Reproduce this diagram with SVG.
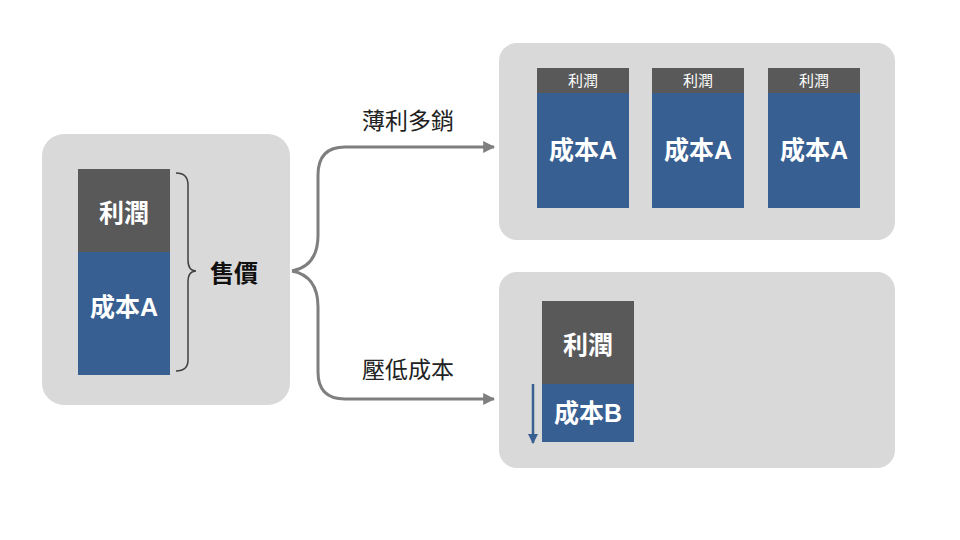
<svg xmlns="http://www.w3.org/2000/svg" width="960" height="540" viewBox="0 0 960 540">
<defs>
<style>
.panel{fill:#d9d9d9}
.dk{fill:#595959}
.bl{fill:#385f92}
.t{font-family:"Liberation Sans","Noto Sans CJK TC",sans-serif;fill:#fff;text-anchor:middle}
.lb{font-family:"Liberation Sans","Noto Sans CJK TC",sans-serif;fill:#222;font-size:23px}
.conn{fill:none;stroke:#7f7f7f;stroke-width:3}
</style>
<marker id="ah" viewBox="0 0 10 10" refX="9" refY="5" markerWidth="4" markerHeight="4" orient="auto"><path d="M0,0L10,5L0,10z" fill="#7f7f7f"/></marker>
<marker id="ab" viewBox="0 0 10 10" refX="9" refY="5" markerWidth="4" markerHeight="4" orient="auto"><path d="M0,0L10,5L0,10z" fill="#385f92"/></marker>
</defs>
<rect width="960" height="540" fill="#fff"/>
<g id="left">
<rect class="panel" x="42" y="134" width="248" height="271" rx="22"/>
<rect class="dk" x="78" y="169" width="92" height="83"/>
<rect class="bl" x="78" y="252" width="92" height="123"/>
<text class="t" x="124" y="222" font-size="25" font-weight="bold">利潤</text>
<text class="t" x="124" y="316" font-size="25" font-weight="bold">成本A</text>
<path d="M176,173 Q188,173 188,185 L188,260 Q188,271 196,271 Q188,271 188,282 L188,360 Q188,371 176,371" fill="none" stroke="#404040" stroke-width="1.5"/>
<text x="234" y="282" font-family="Liberation Sans,Noto Sans CJK TC,sans-serif" font-size="24" font-weight="bold" text-anchor="middle" fill="#111">售價</text>
</g>
<g id="connectors">
<path class="conn" marker-end="url(#ah)" d="M292,271 Q318,266 318,235 L318,175 Q318,147 345,147 L494,147"/>
<path class="conn" marker-end="url(#ah)" d="M292,271 Q318,276 318,307 L318,372 Q318,399 345,399 L494,399"/>
<text class="lb" x="362" y="129">薄利多銷</text>
<text class="lb" x="362" y="378">壓低成本</text>
</g>
<g id="top">
<rect class="panel" x="499" y="43" width="396" height="197" rx="18"/>
<g id="b1"><rect class="dk" x="537" y="68" width="92" height="25"/><rect class="bl" x="537" y="93" width="92" height="115"/>
<text class="t" x="583" y="86" font-size="15">利潤</text><text class="t" x="583" y="159" font-size="25" font-weight="bold">成本A</text></g>
<g id="b2"><rect class="dk" x="652" y="68" width="92" height="25"/><rect class="bl" x="652" y="93" width="92" height="115"/>
<text class="t" x="698" y="86" font-size="15">利潤</text><text class="t" x="698" y="159" font-size="25" font-weight="bold">成本A</text></g>
<g id="b3"><rect class="dk" x="768" y="68" width="92" height="25"/><rect class="bl" x="768" y="93" width="92" height="115"/>
<text class="t" x="814" y="86" font-size="15">利潤</text><text class="t" x="814" y="159" font-size="25" font-weight="bold">成本A</text></g>
</g>
<g id="bottom">
<rect class="panel" x="499" y="272" width="396" height="196" rx="18"/>
<rect class="dk" x="542" y="301" width="92" height="83"/>
<rect class="bl" x="542" y="384" width="92" height="58"/>
<text class="t" x="588" y="354" font-size="25" font-weight="bold">利潤</text>
<text class="t" x="588" y="422" font-size="25" font-weight="bold">成本B</text>
<line x1="533" y1="384" x2="533" y2="443" stroke="#385f92" stroke-width="2.5" marker-end="url(#ab)"/>
</g>
</svg>
